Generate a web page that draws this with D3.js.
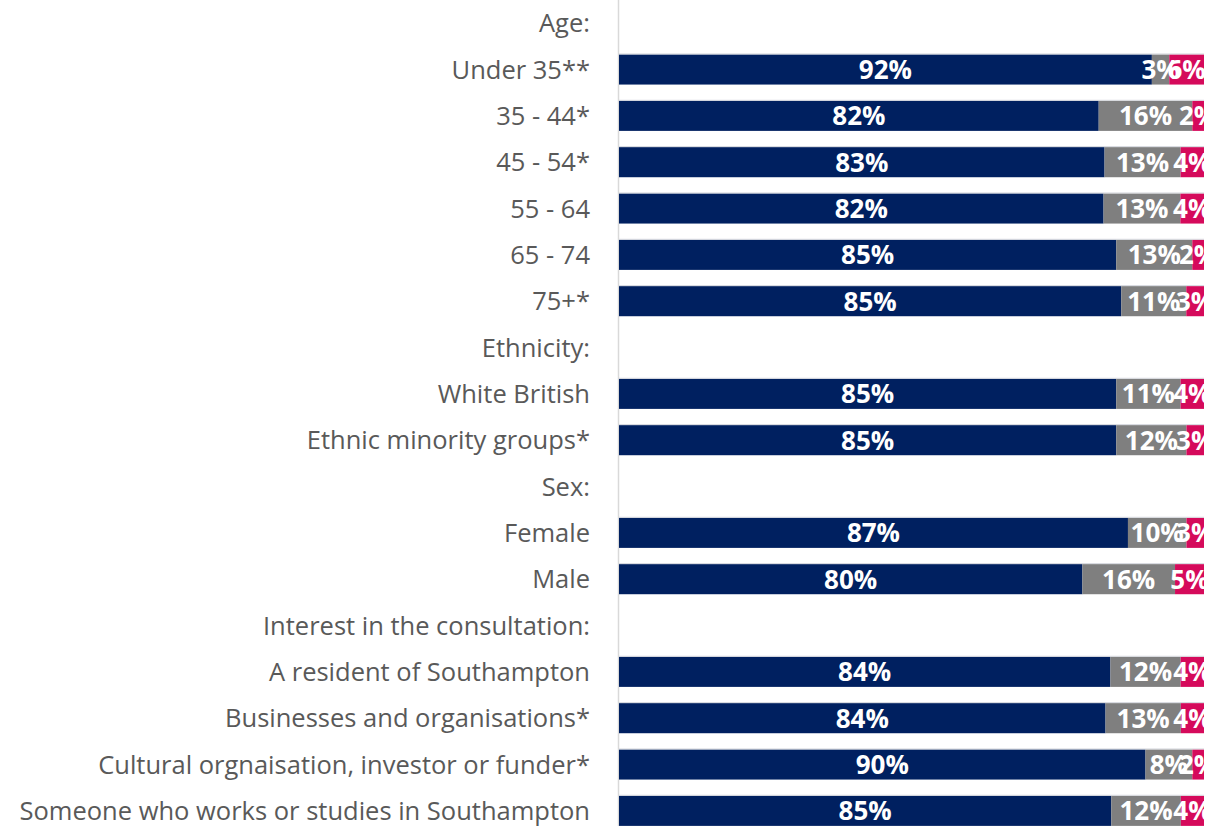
<!DOCTYPE html>
<html>
<head>
<meta charset="utf-8">
<script src="https://cdn.jsdelivr.net/npm/d3@7"></script>
<style>
  html, body { margin: 0; padding: 0; background: #ffffff; }
  svg { display: block; }
</style>
</head>
<body>
<svg id="chart" width="1214" height="826"></svg>
<script>
// Row labels (group headings have no bar)
const categories = [
  "Age:", "Under 35**", "35 - 44*", "45 - 54*", "55 - 64", "65 - 74", "75+*",
  "Ethnicity:", "White British", "Ethnic minority groups*",
  "Sex:", "Female", "Male",
  "Interest in the consultation:", "A resident of Southampton",
  "Businesses and organisations*", "Cultural orgnaisation, investor or funder*",
  "Someone who works or studies in Southampton"
];
// Percentages per response group (null = heading row)
const agree    = [null, 92, 82, 83, 82, 85, 85, null, 85, 85, null, 87, 80, null, 84, 84, 90, 85];
const neutral  = [null,  3, 16, 13, 13, 13, 11, null, 11, 12, null, 10, 16, null, 12, 13,  8, 12];
const disagree = [null,  6,  2,  4,  4,  2,  3, null,  4,  3, null,  3,  5, null,  4,  4,  2,  4];

const seriesNames = ["agree", "neutral", "disagree"];
const seriesValues = [agree, neutral, disagree];
const colors = ["#002060", "#7f7f7f", "#d50a5b"];

const W = 1214, H = 826;
const plotLeft = 619, plotRight = 1204;

const svg = d3.select("#chart");

const y = d3.scaleBand()
  .domain(categories)
  .range([0, 834])
  .paddingInner(0.35)
  .paddingOuter(0.175);

// Vertical axis line
svg.append("line")
  .attr("x1", plotLeft - 0.5).attr("x2", plotLeft - 0.5)
  .attr("y1", 0).attr("y2", H)
  .attr("stroke", "#d9d9d9").attr("stroke-width", 1.5);

// Category labels
svg.append("g").selectAll("text")
  .data(categories)
  .join("text")
  .attr("x", 590)
  .attr("y", d => y(d) + y.bandwidth() / 2)
  .attr("dy", "0.36em")
  .attr("text-anchor", "end")
  .attr("fill", "#595959")
  .style("font-family", "'Open Sans', sans-serif")
  .style("font-size", "25.5px")
  .text(d => d);

// Build stacked segments for each row (each row spans the full plot width)
const rows = categories.map((c, i) => {
  const vals = seriesValues.map(s => s[i]);
  if (vals[0] === null) return null;
  const total = d3.sum(vals);
  const x = d3.scaleLinear().domain([0, total]).range([plotLeft, plotRight]);
  let acc = 0;
  return vals.map((v, k) => {
    const seg = { cat: c, key: seriesNames[k], value: v, x0: x(acc), x1: x(acc + v), color: colors[k] };
    acc += v;
    return seg;
  });
}).filter(r => r !== null);

const segs = rows.flat();

svg.append("defs").append("clipPath").attr("id", "plotClip")
  .append("rect").attr("x", plotLeft).attr("y", 0)
  .attr("width", plotRight - plotLeft).attr("height", H);

const plot = svg.append("g").attr("clip-path", "url(#plotClip)");

plot.append("g").selectAll("rect")
  .data(segs)
  .join("rect")
  .attr("x", d => d.x0)
  .attr("y", d => y(d.cat))
  .attr("width", d => d.x1 - d.x0)
  .attr("height", y.bandwidth())
  .attr("fill", d => d.color);

// faint highlight along the top edge of each bar
plot.append("g").selectAll("line")
  .data(rows)
  .join("line")
  .attr("x1", plotLeft).attr("x2", plotRight)
  .attr("y1", d => y(d[0].cat) - 0.5)
  .attr("y2", d => y(d[0].cat) - 0.5)
  .attr("stroke", "#d6d8de").attr("stroke-width", 1);

plot.append("g").selectAll("text")
  .data(segs)
  .join("text")
  .attr("x", d => (d.x0 + d.x1) / 2)
  .attr("y", d => y(d.cat) + y.bandwidth() / 2)
  .attr("dy", "0.36em")
  .attr("text-anchor", "middle")
  .attr("fill", "#ffffff")
  .style("font-family", "'Open Sans', sans-serif")
  .style("font-weight", "700")
  .style("font-size", "26px")
  .text(d => d.value + "%");
</script>
</body>
</html>
